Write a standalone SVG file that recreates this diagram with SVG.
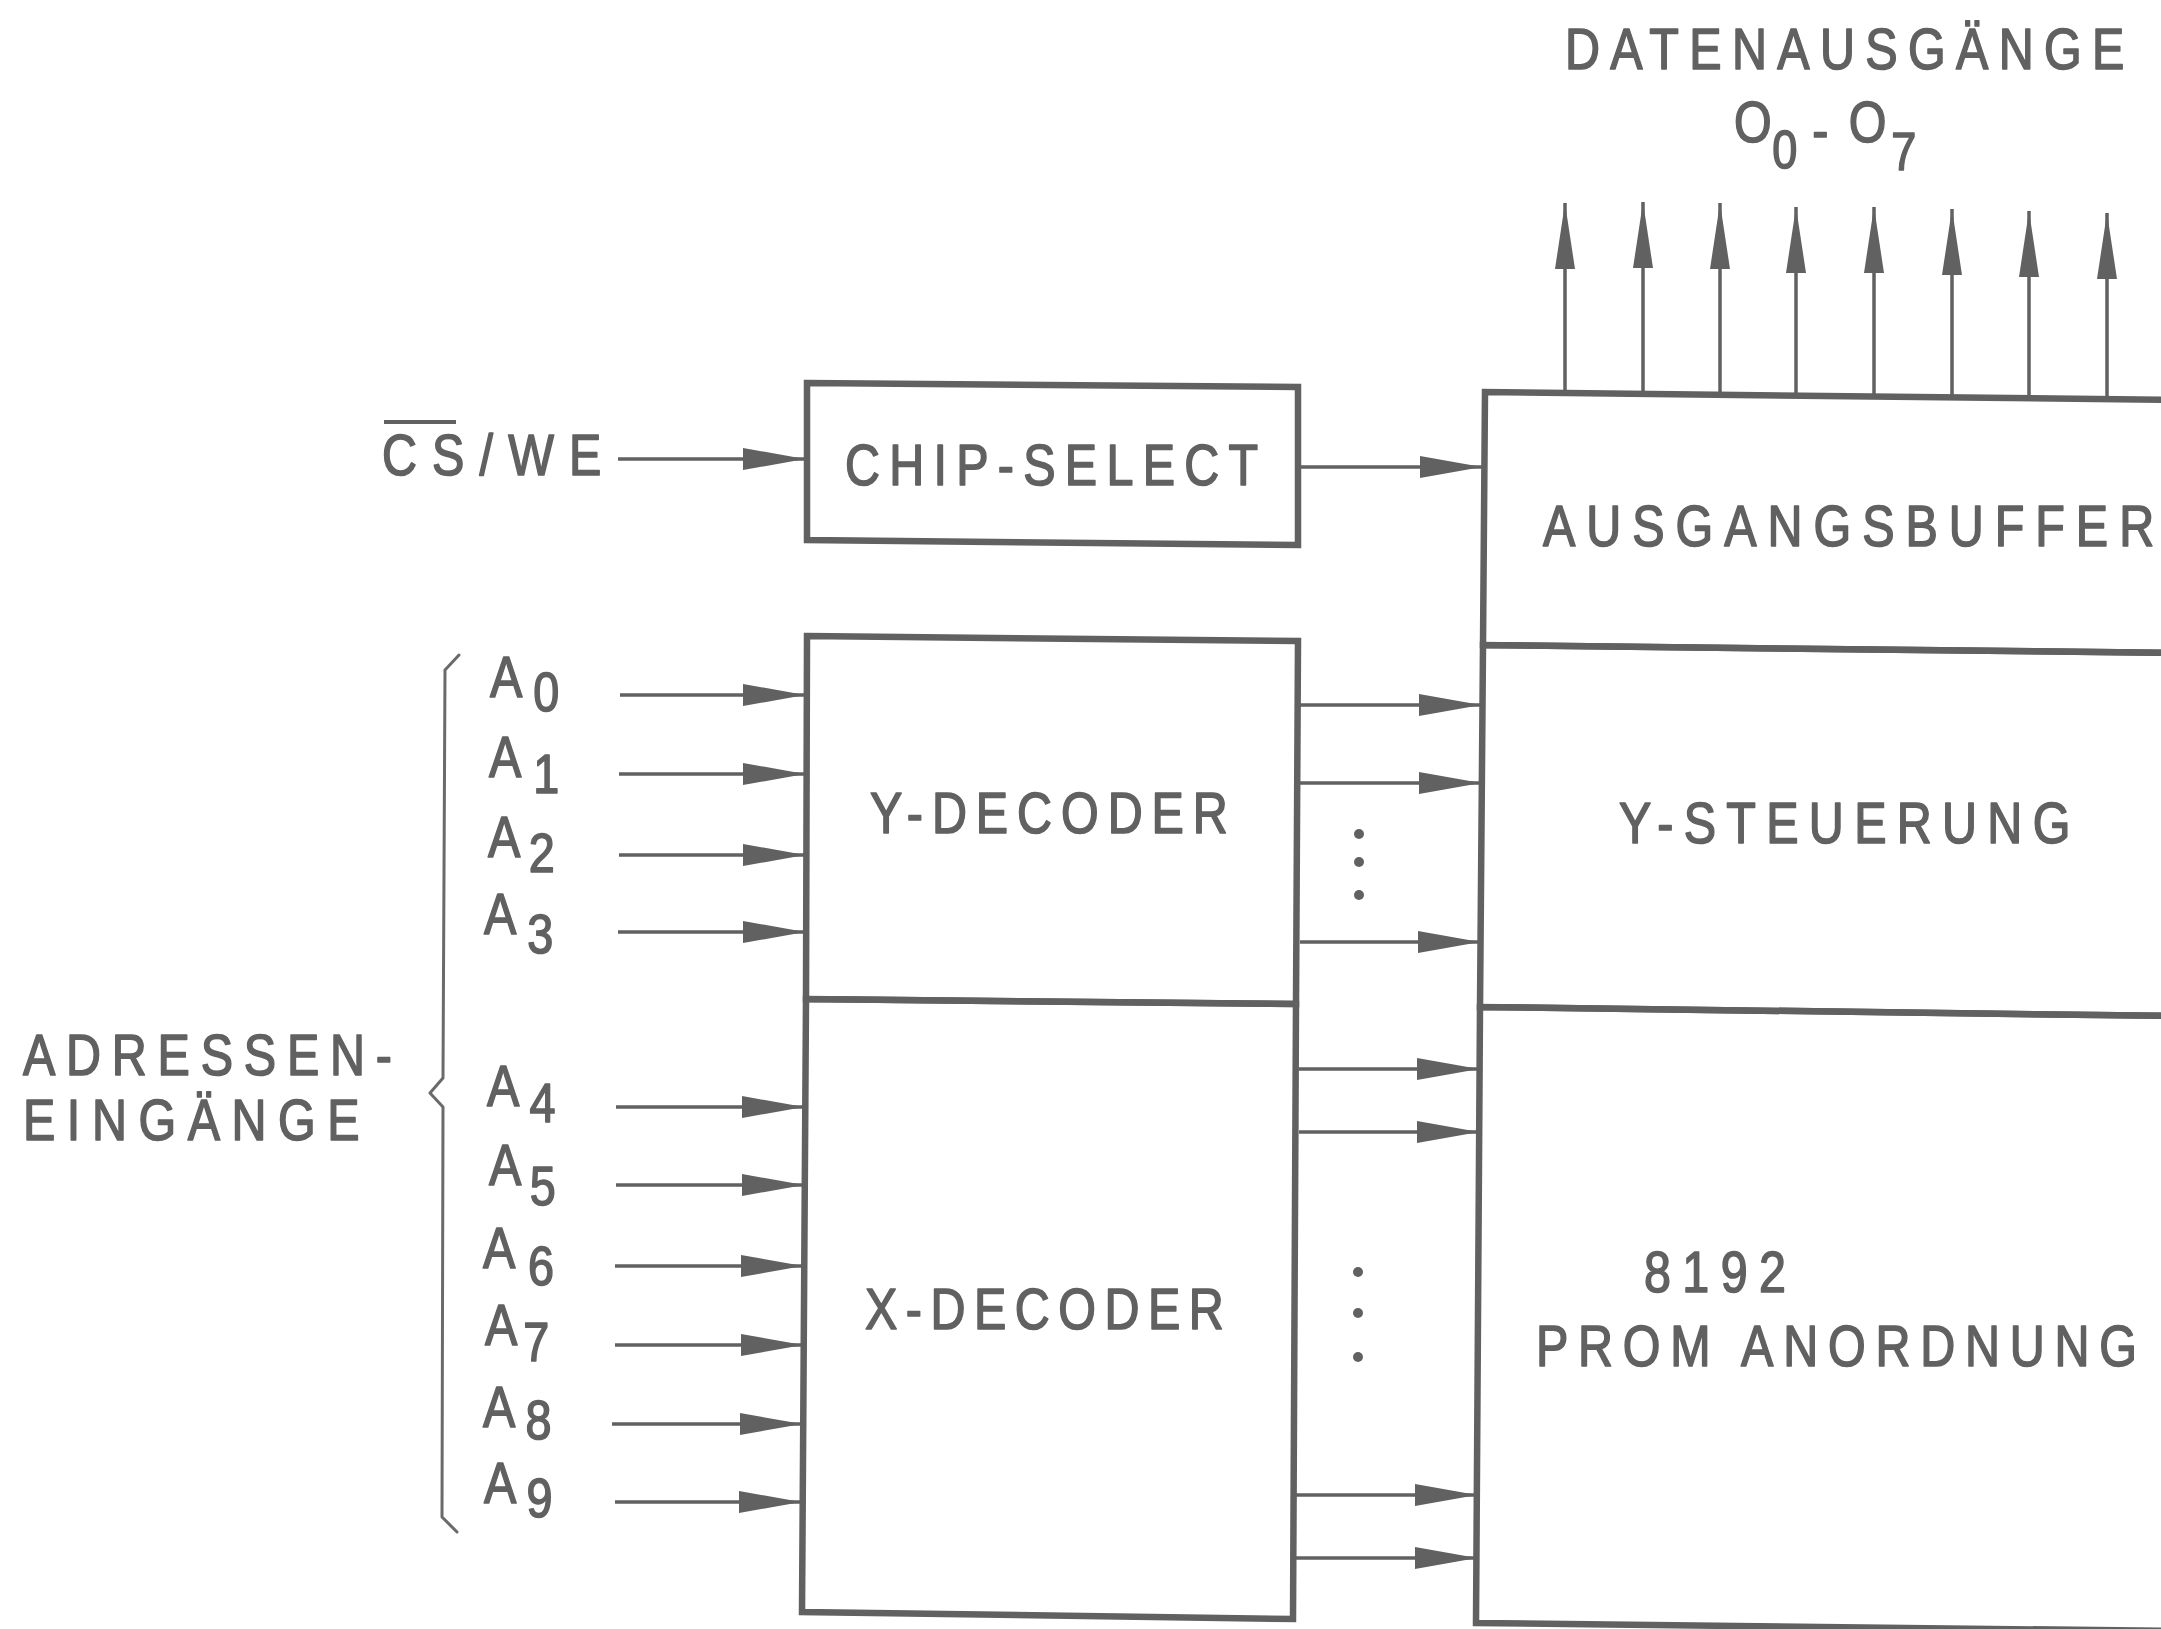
<svg xmlns="http://www.w3.org/2000/svg" width="2161" height="1629" viewBox="0 0 2161 1629">
<style>
.t{font-family:"Liberation Sans",Arial,sans-serif;font-size:57px;fill:#616161;stroke:#616161;stroke-width:1.6;stroke-linejoin:round}
.box{fill:none;stroke:#616161;stroke-width:6.5;stroke-linejoin:miter}
.wire{fill:none;stroke:#616161;stroke-width:3.5}
.brace{fill:none;stroke:#6a6a6a;stroke-width:3;stroke-linejoin:round;stroke-linecap:round}
.dot{fill:#616161}
</style>
<defs>
<marker id="ah" markerUnits="userSpaceOnUse" markerWidth="62" markerHeight="24" viewBox="0 0 62 24" refX="62" refY="12" orient="auto">
<path d="M0,1 L62,12 L0,23 Z" fill="#616161"/>
</marker>
<marker id="ahv" markerUnits="userSpaceOnUse" markerWidth="66" markerHeight="22" viewBox="0 0 66 22" refX="66" refY="11" orient="auto">
<path d="M0,1 L66,11 L0,21 Z" fill="#616161"/>
</marker>
</defs>
<rect width="2161" height="1629" fill="#ffffff"/>

<g id="title">
<text class="t" font-size="56" transform="translate(1565,69) scale(0.85,1)" textLength="658" lengthAdjust="spacing">DATENAUSGÄNGE</text>
<text class="t" transform="translate(1734,142) scale(0.85,1)">O<tspan x="45" y="26" font-size="53">0</tspan><tspan x="92" y="8">-</tspan><tspan x="135" y="0">O</tspan><tspan x="185" y="28" font-size="53">7</tspan></text>
</g>

<g id="cswe">
<text class="t" font-size="52" transform="translate(382,475) scale(0.85,1)" textLength="258" lengthAdjust="spacing">CS/WE</text>
<line x1="384" y1="422" x2="456" y2="422" stroke="#616161" stroke-width="4"/>
</g>

<g id="adresseneingaenge">
<text class="t" transform="translate(23,1075) scale(0.85,1)" textLength="434" lengthAdjust="spacing">ADRESSEN-</text>
<text class="t" transform="translate(23,1140) scale(0.85,1)" textLength="396" lengthAdjust="spacing">EINGÄNGE</text>
<path class="brace" d="M459,655 L445,670 L443,1078 L430,1093 L443,1107 L442,1517 L457,1532"/>
</g>

<g id="address-labels">
<text class="t" transform="translate(490,697) scale(0.85,1)">A<tspan x="51" y="14" font-size="55">0</tspan></text>
<text class="t" transform="translate(489,777) scale(0.85,1)">A<tspan x="52" y="16" font-size="55">1</tspan></text>
<text class="t" transform="translate(488,857) scale(0.85,1)">A<tspan x="48" y="15" font-size="55">2</tspan></text>
<text class="t" transform="translate(484,934) scale(0.85,1)">A<tspan x="51" y="19" font-size="55">3</tspan></text>
<text class="t" transform="translate(487,1106) scale(0.85,1)">A<tspan x="50" y="16" font-size="55">4</tspan></text>
<text class="t" transform="translate(489,1185) scale(0.85,1)">A<tspan x="48" y="20" font-size="55">5</tspan></text>
<text class="t" transform="translate(483,1268) scale(0.85,1)">A<tspan x="53" y="17" font-size="55">6</tspan></text>
<text class="t" transform="translate(485,1345) scale(0.85,1)">A<tspan x="45" y="16" font-size="55">7</tspan></text>
<text class="t" transform="translate(483,1427) scale(0.85,1)">A<tspan x="50" y="12" font-size="55">8</tspan></text>
<text class="t" transform="translate(484,1503) scale(0.85,1)">A<tspan x="50" y="14" font-size="55">9</tspan></text>
</g>

<g id="chip-select">
<path class="box" d="M807,383 L1298,387 L1298,545 L807,540 Z"/>
<text class="t" font-size="58" transform="translate(845,485) scale(0.85,1)" textLength="486" lengthAdjust="spacing">CHIP-SELECT</text>
</g>

<g id="y-decoder">
<path class="box" d="M807,636 L1298,641 L1296,1004 L806,999 Z"/>
<text class="t" transform="translate(870,833) scale(0.85,1)" textLength="421" lengthAdjust="spacing">Y-DECODER</text>
<circle class="dot" cx="1359" cy="834" r="5"/>
<circle class="dot" cx="1359" cy="862" r="5"/>
<circle class="dot" cx="1359" cy="895" r="5"/>
</g>

<g id="x-decoder">
<path class="box" d="M806,999 L1296,1004 L1293,1619 L802,1612 Z"/>
<text class="t" font-size="58" transform="translate(865,1329) scale(0.85,1)" textLength="422" lengthAdjust="spacing">X-DECODER</text>
<circle class="dot" cx="1358" cy="1272" r="5"/>
<circle class="dot" cx="1358" cy="1313" r="5"/>
<circle class="dot" cx="1358" cy="1357" r="5"/>
</g>

<g id="ausgangsbuffer">
<path class="box" d="M2175,400 L1485,392 L1483,645 L2175,653"/>
<text class="t" font-size="58" transform="translate(1543,546) scale(0.85,1)" textLength="719" lengthAdjust="spacing">AUSGANGSBUFFER</text>
</g>

<g id="y-steuerung">
<path class="box" d="M2175,653 L1483,645 L1480,1007 L2175,1016"/>
<text class="t" font-size="58" transform="translate(1619,843) scale(0.85,1)" textLength="531" lengthAdjust="spacing">Y-STEUERUNG</text>
</g>

<g id="prom-anordnung">
<path class="box" d="M2175,1016 L1480,1007 L1476,1623 L2175,1631"/>
<text class="t" transform="translate(1644,1292) scale(0.85,1)" textLength="167" lengthAdjust="spacing">8192</text>
<text class="t" transform="translate(1536,1366) scale(0.85,1)" textLength="707" lengthAdjust="spacing">PROM ANORDNUNG</text>
</g>

<g id="connectors">
<line class="wire" x1="618" y1="459" x2="805" y2="459" marker-end="url(#ah)"/>
<line class="wire" x1="1301" y1="467" x2="1482" y2="467" marker-end="url(#ah)"/>
<line class="wire" x1="620" y1="695" x2="805" y2="695" marker-end="url(#ah)"/>
<line class="wire" x1="619" y1="774" x2="805" y2="774" marker-end="url(#ah)"/>
<line class="wire" x1="619" y1="855" x2="805" y2="855" marker-end="url(#ah)"/>
<line class="wire" x1="618" y1="932" x2="805" y2="932" marker-end="url(#ah)"/>
<line class="wire" x1="616" y1="1107" x2="804" y2="1107" marker-end="url(#ah)"/>
<line class="wire" x1="616" y1="1185" x2="804" y2="1185" marker-end="url(#ah)"/>
<line class="wire" x1="615" y1="1266" x2="803" y2="1266" marker-end="url(#ah)"/>
<line class="wire" x1="615" y1="1345" x2="803" y2="1345" marker-end="url(#ah)"/>
<line class="wire" x1="612" y1="1424" x2="802" y2="1424" marker-end="url(#ah)"/>
<line class="wire" x1="615" y1="1502" x2="801" y2="1502" marker-end="url(#ah)"/>
<line class="wire" x1="1300" y1="705" x2="1481" y2="705" marker-end="url(#ah)"/>
<line class="wire" x1="1300" y1="783" x2="1481" y2="783" marker-end="url(#ah)"/>
<line class="wire" x1="1300" y1="942" x2="1480" y2="942" marker-end="url(#ah)"/>
<line class="wire" x1="1299" y1="1069" x2="1479" y2="1069" marker-end="url(#ah)"/>
<line class="wire" x1="1299" y1="1132" x2="1479" y2="1132" marker-end="url(#ah)"/>
<line class="wire" x1="1296" y1="1495" x2="1477" y2="1495" marker-end="url(#ah)"/>
<line class="wire" x1="1296" y1="1558" x2="1477" y2="1558" marker-end="url(#ah)"/>
<line class="wire" x1="1565" y1="392" x2="1565" y2="203" marker-end="url(#ahv)"/>
<line class="wire" x1="1643" y1="393" x2="1643" y2="202" marker-end="url(#ahv)"/>
<line class="wire" x1="1720" y1="394" x2="1720" y2="203" marker-end="url(#ahv)"/>
<line class="wire" x1="1796" y1="394" x2="1796" y2="207" marker-end="url(#ahv)"/>
<line class="wire" x1="1874" y1="395" x2="1874" y2="207" marker-end="url(#ahv)"/>
<line class="wire" x1="1952" y1="396" x2="1952" y2="209" marker-end="url(#ahv)"/>
<line class="wire" x1="2029" y1="397" x2="2029" y2="211" marker-end="url(#ahv)"/>
<line class="wire" x1="2107" y1="398" x2="2107" y2="213" marker-end="url(#ahv)"/>
</g>
</svg>
